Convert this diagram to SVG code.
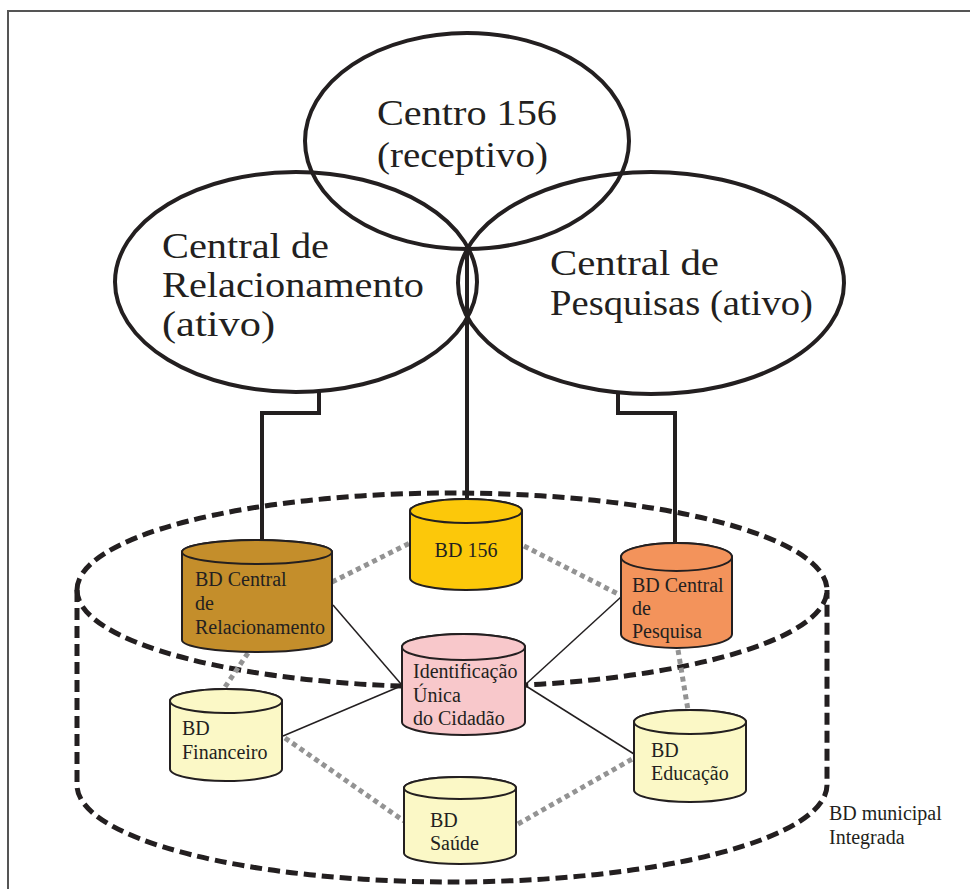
<svg xmlns="http://www.w3.org/2000/svg" width="970" height="889" viewBox="0 0 970 889">
<style>
.venn{fill:none;stroke:#231F20;stroke-width:4}
.big{font-family:"Liberation Serif",serif;font-size:35px;fill:#231F20}
.lbl{font-family:"Liberation Serif",serif;font-size:20px;fill:#231F20}
.cyl{stroke:#231F20;stroke-width:2}
.link{fill:none;stroke:#231F20;stroke-width:4}
.thin{fill:none;stroke:#231F20;stroke-width:1.5}
.dot{fill:none;stroke:#939393;stroke-width:5;stroke-dasharray:5 4}
.dash{fill:none;stroke:#231F20;stroke-width:5;stroke-dasharray:12 6}
</style>
<rect width="970" height="889" fill="#fff"/>
<path d="M8 889 V11 H970" fill="none" stroke="#555" stroke-width="2"/>

<g id="municipal">
<path class="dash" d="M77 590 A375 97 0 0 1 827 590 A375 97 0 0 1 77 590 Z"/>
<path class="dash" d="M77 590 V785 A375 97 0 0 0 827 785 V590"/>
<text class="lbl" x="829" y="820">BD municipal</text>
<text class="lbl" x="829" y="844">Integrada</text>
</g>

<g id="centro156">
<ellipse class="venn" cx="467" cy="141" rx="162" ry="108"/>
<text class="big" x="377" y="125" textLength="180" lengthAdjust="spacingAndGlyphs">Centro 156</text>
<text class="big" x="377" y="167" textLength="171" lengthAdjust="spacingAndGlyphs">(receptivo)</text>
</g>
<g id="relacionamento">
<ellipse class="venn" cx="296" cy="282" rx="181" ry="110"/>
<text class="big" x="162" y="258" textLength="167" lengthAdjust="spacingAndGlyphs">Central de</text>
<text class="big" x="162" y="297" textLength="262" lengthAdjust="spacingAndGlyphs">Relacionamento</text>
<text class="big" x="162" y="336" textLength="113" lengthAdjust="spacingAndGlyphs">(ativo)</text>
</g>
<g id="pesquisas">
<ellipse class="venn" cx="651" cy="283" rx="193" ry="111"/>
<text class="big" x="550" y="275" textLength="169" lengthAdjust="spacingAndGlyphs">Central de</text>
<text class="big" x="550" y="315" textLength="263" lengthAdjust="spacingAndGlyphs">Pesquisas (ativo)</text>
</g>

<g id="connectors">
<polyline class="link" points="319,390 319,413 262,413 262,541"/>
<line class="link" x1="467" y1="245" x2="467" y2="500"/>
<polyline class="link" points="618,392 618,413 675,413 675,544"/>
<line class="thin" x1="333" y1="605" x2="401" y2="684"/>
<line class="thin" x1="401" y1="686" x2="283" y2="736"/>
<line class="thin" x1="526" y1="684" x2="621" y2="597"/>
<line class="thin" x1="526" y1="686" x2="634" y2="754"/>
<line class="dot" x1="332" y1="582" x2="410" y2="543"/>
<line class="dot" x1="524" y1="546" x2="620" y2="595"/>
<line class="dot" x1="248" y1="653" x2="223" y2="690"/>
<line class="dot" x1="678" y1="650" x2="688" y2="710"/>
<line class="dot" x1="285" y1="738" x2="404" y2="821"/>
<line class="dot" x1="518" y1="824" x2="634" y2="758"/>
</g>

<g id="bd156">
<path class="cyl" fill="#FCC80A" d="M410 511 V578 A56 12 0 0 0 522 578 V511 A56 12 0 0 0 410 511 Z"/>
<ellipse class="cyl" fill="#FCC80A" cx="466" cy="511" rx="56" ry="12"/>
<text class="lbl" x="466" y="557" text-anchor="middle">BD 156</text>
</g>
<g id="bdRelacionamento">
<path class="cyl" fill="#C48E2B" d="M182 552 V640 A75 12 0 0 0 332 640 V552 A75 12 0 0 0 182 552 Z"/>
<ellipse class="cyl" fill="#C48E2B" cx="257" cy="552" rx="75" ry="12"/>
<text class="lbl" x="195" y="586">BD Central</text>
<text class="lbl" x="195" y="610">de</text>
<text class="lbl" x="195" y="634">Relacionamento</text>
</g>
<g id="bdPesquisa">
<path class="cyl" fill="#F3935B" d="M621 557 V634 A55.5 14 0 0 0 732 634 V557 A55.5 14 0 0 0 621 557 Z"/>
<ellipse class="cyl" fill="#F3935B" cx="676.5" cy="557" rx="55.5" ry="14"/>
<text class="lbl" x="632" y="592">BD Central</text>
<text class="lbl" x="632" y="615">de</text>
<text class="lbl" x="632" y="638">Pesquisa</text>
</g>
<g id="identificacao">
<path class="cyl" fill="#F8C8CB" d="M402 647 V722 A61.5 13 0 0 0 525 722 V647 A61.5 13 0 0 0 402 647 Z"/>
<ellipse class="cyl" fill="#F8C8CB" cx="463.5" cy="647" rx="61.5" ry="13"/>
<text class="lbl" x="413" y="678">Identificação</text>
<text class="lbl" x="413" y="702">Única</text>
<text class="lbl" x="413" y="725">do Cidadão</text>
</g>
<g id="bdFinanceiro">
<path class="cyl" fill="#FBF8C6" d="M170 701 V769 A56 12 0 0 0 282 769 V701 A56 12 0 0 0 170 701 Z"/>
<ellipse class="cyl" fill="#FBF8C6" cx="226" cy="701" rx="56" ry="12"/>
<text class="lbl" x="182" y="735">BD</text>
<text class="lbl" x="182" y="759">Financeiro</text>
</g>
<g id="bdSaude">
<path class="cyl" fill="#FBF8C6" d="M404 788 V853 A56 11 0 0 0 516 853 V788 A56 11 0 0 0 404 788 Z"/>
<ellipse class="cyl" fill="#FBF8C6" cx="460" cy="788" rx="56" ry="11"/>
<text class="lbl" x="430" y="827">BD</text>
<text class="lbl" x="430" y="850">Saúde</text>
</g>
<g id="bdEducacao">
<path class="cyl" fill="#FBF8C6" d="M634 722 V790 A56 12 0 0 0 746 790 V722 A56 12 0 0 0 634 722 Z"/>
<ellipse class="cyl" fill="#FBF8C6" cx="690" cy="722" rx="56" ry="12"/>
<text class="lbl" x="651" y="757">BD</text>
<text class="lbl" x="651" y="780">Educação</text>
</g>
</svg>
